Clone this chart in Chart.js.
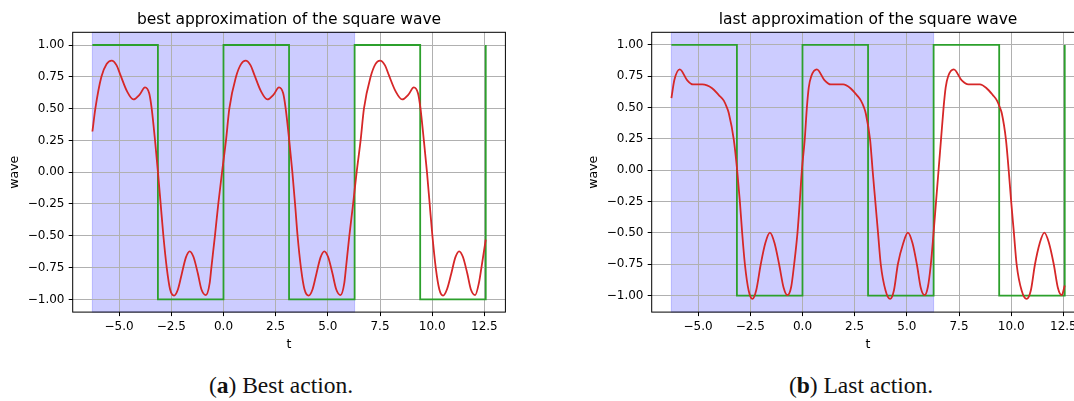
<!DOCTYPE html>
<html lang="en">
<head>
<meta charset="UTF-8">
<title>Square wave approximations</title>
<script src="https://cdn.jsdelivr.net/npm/chart.js"></script>
<style>
    html, body { margin: 0; padding: 0; background: #fff; }
    .page { position: relative; width: 1074px; height: 401px; overflow: hidden; }
    canvas { position: absolute; top: 0; }
    #bestChart { left: 0; }
    #lastChart { left: 579px; }
    .caption {
        position: absolute; top: 372px; width: 300px; text-align: center;
        font-family: "Liberation Serif", serif; font-size: 23.5px; color: #111;
    }
</style>
</head>
<body>
<div class="page">
    <canvas id="bestChart" width="540" height="360"></canvas>
    <canvas id="lastChart" width="540" height="360"></canvas>
    <div class="caption" style="left: 131px;">(<b>a</b>) Best action.</div>
    <div class="caption" style="left: 711px;">(<b>b</b>) Last action.</div>
</div>

<script>
    // square wave (target), sampled at its jumps
    const squareT = [-6.283, -3.142, -3.142, 0, 0, 3.142, 3.142, 6.283, 6.283, 9.425, 9.425, 12.566, 12.566];
    const squareV = [1, 1, -1, -1, 1, 1, -1, -1, 1, 1, -1, -1, 1];

    // best approximation
    const bestT = [-6.28, -6.14, -5.85, -5.60, -5.36, -5.12, -4.94, -4.62, -4.32, -4.02, -3.76, -3.56, -3.44, -3.28, -3.14,
        -3.01, -2.88, -2.72, -2.56, -2.37, -2.18, -2.00, -1.80, -1.62, -1.44, -1.23, -1.06, -0.84, -0.66, -0.58, -0.41, -0.25, -0.07,
        0.12, 0.28, 0.60, 0.84, 1.06, 1.30, 1.48, 1.80, 2.10, 2.40, 2.66, 2.86, 2.98, 3.15, 3.30,
        3.43, 3.55, 3.71, 3.88, 4.08, 4.27, 4.45, 4.65, 4.83, 5.01, 5.22, 5.40, 5.61, 5.79, 5.87, 6.03, 6.21, 6.38,
        6.57, 6.73, 7.05, 7.28, 7.50, 7.74, 7.92, 8.25, 8.56, 8.86, 9.12, 9.32, 9.44, 9.60, 9.75,
        9.88, 10.01, 10.17, 10.34, 10.52, 10.71, 10.91, 11.11, 11.29, 11.47, 11.68, 11.85, 12.06, 12.24, 12.36, 12.566];
    const bestV = [0.32, 0.50, 0.75, 0.85, 0.877, 0.84, 0.765, 0.635, 0.572, 0.61, 0.667, 0.62, 0.50, 0.25, 0.0,
        -0.25, -0.50, -0.75, -0.92, -0.97, -0.92, -0.80, -0.67, -0.622, -0.665, -0.795, -0.92, -0.966, -0.87, -0.75, -0.50, -0.25, 0.0,
        0.25, 0.50, 0.75, 0.85, 0.877, 0.84, 0.765, 0.635, 0.572, 0.61, 0.667, 0.62, 0.50, 0.25, 0.0,
        -0.25, -0.50, -0.75, -0.92, -0.97, -0.92, -0.80, -0.67, -0.622, -0.665, -0.795, -0.92, -0.966, -0.87, -0.75, -0.50, -0.25, 0.0,
        0.25, 0.50, 0.75, 0.85, 0.877, 0.84, 0.765, 0.635, 0.572, 0.61, 0.667, 0.62, 0.50, 0.25, 0.0,
        -0.25, -0.50, -0.75, -0.92, -0.97, -0.92, -0.80, -0.67, -0.622, -0.665, -0.795, -0.92, -0.966, -0.87, -0.75, -0.53];

    // last approximation
    const lastT = [-6.28, -6.14, -5.88, -5.53, -5.25, -4.80, -4.33, -4.01, -3.77, -3.62, -3.53, -3.29, -3.13,
        -3.00, -2.89, -2.76, -2.58, -2.40, -2.22, -2.00, -1.78, -1.56, -1.34, -1.12, -0.90, -0.72, -0.54, -0.40, -0.24, -0.13, -0.03,
        0.11, 0.21, 0.30, 0.42, 0.69, 1.05, 1.35, 1.95, 2.30, 2.60, 2.80, 2.95, 3.03, 3.24, 3.36,
        3.49, 3.62, 3.75, 3.98, 4.20, 4.38, 4.57, 4.83, 5.05, 5.27, 5.48, 5.67, 5.85, 6.01, 6.15, 6.28, 6.40, 6.52,
        6.64, 6.76, 6.86, 6.98, 7.25, 7.62, 7.95, 8.50, 8.82, 9.12, 9.32, 9.46, 9.55, 9.75, 9.88,
        10.00, 10.13, 10.26, 10.50, 10.74, 10.94, 11.14, 11.37, 11.59, 11.81, 12.04, 12.24, 12.42, 12.566];
    const lastV = [0.575, 0.72, 0.805, 0.72, 0.685, 0.685, 0.655, 0.60, 0.556, 0.50, 0.455, 0.243, 0.0,
        -0.25, -0.50, -0.75, -0.96, -1.027, -0.96, -0.75, -0.58, -0.497, -0.58, -0.75, -0.94, -0.997, -0.93, -0.75, -0.50, -0.25, 0.0,
        0.25, 0.50, 0.66, 0.75, 0.805, 0.72, 0.685, 0.685, 0.655, 0.60, 0.556, 0.50, 0.455, 0.243, 0.0,
        -0.25, -0.50, -0.75, -0.96, -1.027, -0.96, -0.75, -0.58, -0.497, -0.58, -0.75, -0.94, -0.997, -0.93, -0.75, -0.50, -0.25, 0.0,
        0.25, 0.50, 0.66, 0.75, 0.805, 0.72, 0.685, 0.685, 0.655, 0.60, 0.556, 0.50, 0.455, 0.243, 0.0,
        -0.25, -0.50, -0.75, -0.96, -1.027, -0.96, -0.75, -0.58, -0.497, -0.58, -0.75, -0.94, -0.997, -0.92];

    // shaded interval and axes
    const spanFrom = -6.283;
    const spanTo = 6.283;
    const tRange = [-7.225, 13.508];
    const tTicks = [-5, -2.5, 0, 2.5, 5, 7.5, 10, 12.5];
    const waveTicks = [-1, -0.75, -0.5, -0.25, 0, 0.25, 0.5, 0.75, 1];

    Chart.defaults.font.family = "'DejaVu Sans', sans-serif";
    Chart.defaults.color = "#000";

    function points(xs, ys) {
        return xs.map((x, i) => ({ x: x, y: ys[i] }));
    }

    function minusSign(text) {
        return text.replace("-", "\u2212");
    }

    // translucent span under the grid, black frame on top of everything
    const spanAndFrame = {
        id: "spanAndFrame",
        beforeDraw(chart) {
            const { ctx, chartArea: a, scales: { x } } = chart;
            const x0 = x.getPixelForValue(spanFrom);
            const x1 = x.getPixelForValue(spanTo);
            ctx.save();
            ctx.fillStyle = "rgba(0, 0, 255, 0.2)";
            ctx.fillRect(x0, a.top, x1 - x0, a.bottom - a.top);
            ctx.strokeStyle = "rgba(0, 0, 255, 0.2)";
            ctx.lineWidth = 1;
            ctx.strokeRect(x0, a.top, x1 - x0, a.bottom - a.top);
            ctx.restore();
        },
        afterDraw(chart) {
            const { ctx, chartArea: a } = chart;
            ctx.save();
            ctx.strokeStyle = "#000";
            ctx.lineWidth = 1;
            ctx.strokeRect(a.left, a.top, a.right - a.left, a.bottom - a.top);
            ctx.restore();
        }
    };

    function createChart(id, title, curveT, curveV, yMin, yMax) {
        new Chart(document.getElementById(id), {
            type: "line",
            data: {
                datasets: [{
                    data: points(curveT, curveV),
                    borderColor: "#d62728",
                    borderWidth: 1.8,
                    pointRadius: 0,
                    cubicInterpolationMode: "monotone",
                    order: 1
                }, {
                    data: points(squareT, squareV),
                    borderColor: "#2ca02c",
                    borderWidth: 1.8,
                    pointRadius: 0,
                    tension: 0,
                    order: 2
                }]
            },
            options: {
                responsive: false,
                animation: false,
                layout: { padding: { left: 0, right: 34.6, top: 0, bottom: 0 } },
                plugins: {
                    legend: { display: false },
                    tooltip: { enabled: false },
                    title: {
                        display: true,
                        text: title,
                        fullSize: false,
                        color: "#000",
                        font: { size: 15.5, weight: "normal" },
                        padding: { top: 10.7, bottom: 3.0 }
                    }
                },
                scales: {
                    x: {
                        type: "linear",
                        min: tRange[0],
                        max: tRange[1],
                        afterBuildTicks: s => { s.ticks = tTicks.map(v => ({ value: v })); },
                        afterFit: s => { s.height = 47.9; },
                        grid: { color: "#b0b0b0", lineWidth: 1, tickColor: "#000", tickLength: 4 },
                        border: { display: false },
                        ticks: {
                            font: { size: 12 },
                            padding: 3.4,
                            maxRotation: 0,
                            autoSkip: false,
                            callback: v => minusSign(v.toFixed(1))
                        },
                        title: { display: true, text: "t", font: { size: 12.5 }, padding: { top: 0, bottom: 7.5 } }
                    },
                    y: {
                        type: "linear",
                        min: yMin,
                        max: yMax,
                        afterBuildTicks: s => { s.ticks = waveTicks.map(v => ({ value: v })); },
                        afterFit: s => { s.width = 72.7; },
                        grid: { color: "#b0b0b0", lineWidth: 1, tickColor: "#000", tickLength: 4 },
                        border: { display: false },
                        ticks: {
                            font: { size: 12 },
                            padding: 4.2,
                            autoSkip: false,
                            callback: v => minusSign(v.toFixed(2))
                        },
                        title: { display: true, text: "wave", font: { size: 12.5 }, padding: { top: 6.8, bottom: 0 } }
                    }
                }
            },
            plugins: [spanAndFrame]
        });
    }

    createChart("bestChart", "best approximation of the square wave", bestT, bestV, -1.1, 1.1);
    createChart("lastChart", "last approximation of the square wave", lastT, lastV, -1.132, 1.101);
</script>
</body>
</html>
